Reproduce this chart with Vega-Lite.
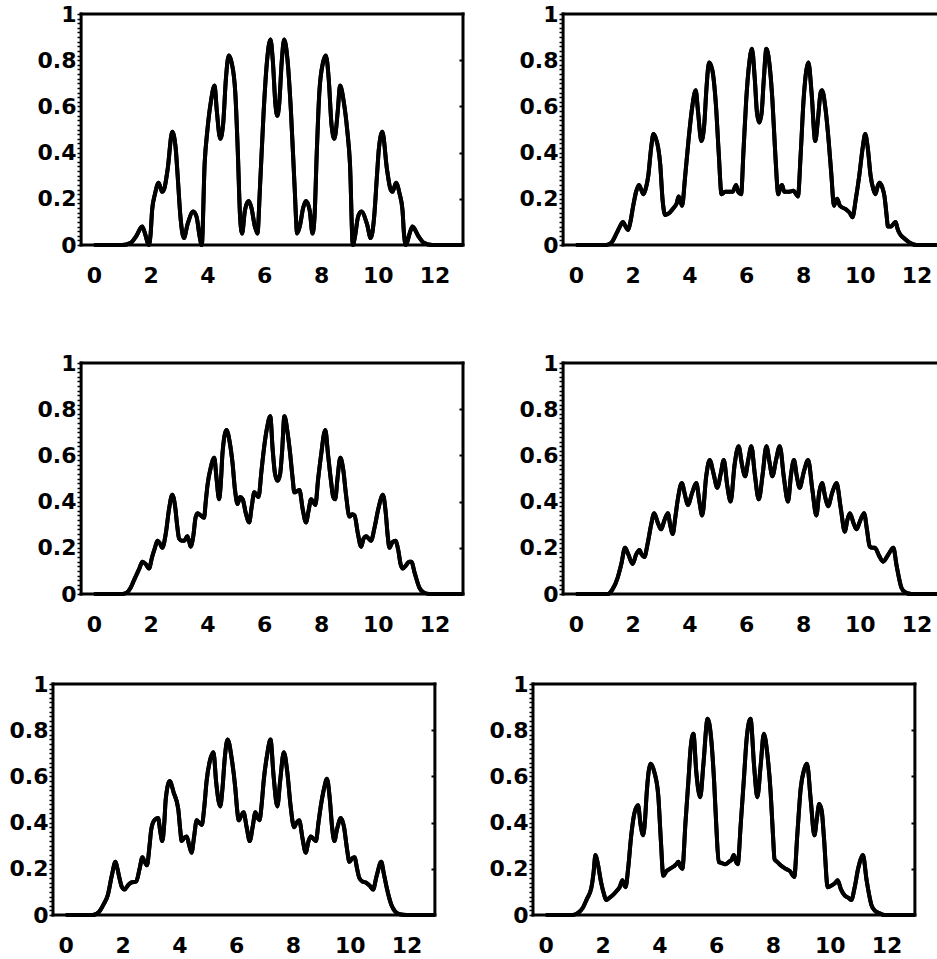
{
  "$schema": "https://vega.github.io/schema/vega-lite/v6.json",
  "background": "white",
  "padding": {"left": 9, "top": 3, "right": 0, "bottom": 0},
  "config": {
    "view": {"stroke": null},
    "axis": {"domain": false, "grid": false, "labelFont": "DejaVu Sans", "labelFontWeight": "bold", "labelFontSize": 22, "labelColor": "black", "tickColor": "black"}
  },
  "datasets": {
    "p1": [{"x":0,"y":0},{"x":1.0,"y":0},{"x":1.3,"y":0.01},{"x":1.5,"y":0.04},{"x":1.7,"y":0.08},{"x":1.8,"y":0.05},{"x":1.93,"y":0},{"x":2.0,"y":0.05},{"x":2.05,"y":0.15},{"x":2.15,"y":0.22},{"x":2.28,"y":0.27},{"x":2.4,"y":0.23},{"x":2.47,"y":0.24},{"x":2.6,"y":0.33},{"x":2.76,"y":0.49},{"x":2.88,"y":0.42},{"x":2.95,"y":0.3},{"x":3.05,"y":0.12},{"x":3.17,"y":0.03},{"x":3.3,"y":0.09},{"x":3.5,"y":0.145},{"x":3.62,"y":0.12},{"x":3.72,"y":0.04},{"x":3.8,"y":0},{"x":3.9,"y":0.35},{"x":4.0,"y":0.5},{"x":4.12,"y":0.62},{"x":4.25,"y":0.69},{"x":4.33,"y":0.58},{"x":4.45,"y":0.46},{"x":4.55,"y":0.52},{"x":4.65,"y":0.72},{"x":4.75,"y":0.82},{"x":4.85,"y":0.79},{"x":4.98,"y":0.66},{"x":5.07,"y":0.4},{"x":5.15,"y":0.12},{"x":5.22,"y":0.05},{"x":5.32,"y":0.15},{"x":5.45,"y":0.19},{"x":5.55,"y":0.16},{"x":5.67,"y":0.08},{"x":5.76,"y":0.05},{"x":5.85,"y":0.25},{"x":5.98,"y":0.58},{"x":6.1,"y":0.8},{"x":6.22,"y":0.89},{"x":6.3,"y":0.8},{"x":6.4,"y":0.6},{"x":6.46,"y":0.56},{"x":6.52,"y":0.6},{"x":6.62,"y":0.8},{"x":6.7,"y":0.89},{"x":6.82,"y":0.8},{"x":6.94,"y":0.58},{"x":7.07,"y":0.25},{"x":7.16,"y":0.05},{"x":7.25,"y":0.08},{"x":7.37,"y":0.16},{"x":7.47,"y":0.19},{"x":7.6,"y":0.15},{"x":7.7,"y":0.05},{"x":7.77,"y":0.12},{"x":7.85,"y":0.4},{"x":7.94,"y":0.66},{"x":8.07,"y":0.79},{"x":8.17,"y":0.82},{"x":8.27,"y":0.72},{"x":8.37,"y":0.52},{"x":8.47,"y":0.46},{"x":8.59,"y":0.58},{"x":8.67,"y":0.69},{"x":8.8,"y":0.62},{"x":8.92,"y":0.5},{"x":9.02,"y":0.35},{"x":9.12,"y":0},{"x":9.2,"y":0.04},{"x":9.3,"y":0.12},{"x":9.42,"y":0.145},{"x":9.62,"y":0.09},{"x":9.75,"y":0.03},{"x":9.87,"y":0.12},{"x":9.97,"y":0.3},{"x":10.04,"y":0.42},{"x":10.16,"y":0.49},{"x":10.32,"y":0.33},{"x":10.45,"y":0.24},{"x":10.52,"y":0.23},{"x":10.64,"y":0.27},{"x":10.77,"y":0.22},{"x":10.87,"y":0.15},{"x":10.92,"y":0.05},{"x":10.99,"y":0},{"x":11.12,"y":0.05},{"x":11.22,"y":0.08},{"x":11.42,"y":0.04},{"x":11.62,"y":0.01},{"x":11.92,"y":0},{"x":13,"y":0}],
    "p2": [{"x":0,"y":0},{"x":1.07,"y":0},{"x":1.25,"y":0.01},{"x":1.43,"y":0.05},{"x":1.55,"y":0.08},{"x":1.66,"y":0.1},{"x":1.75,"y":0.08},{"x":1.84,"y":0.065},{"x":1.92,"y":0.1},{"x":2.02,"y":0.17},{"x":2.12,"y":0.23},{"x":2.22,"y":0.26},{"x":2.3,"y":0.24},{"x":2.38,"y":0.22},{"x":2.45,"y":0.24},{"x":2.55,"y":0.3},{"x":2.65,"y":0.42},{"x":2.73,"y":0.48},{"x":2.82,"y":0.46},{"x":2.9,"y":0.42},{"x":2.97,"y":0.35},{"x":3.05,"y":0.2},{"x":3.15,"y":0.13},{"x":3.3,"y":0.14},{"x":3.44,"y":0.16},{"x":3.55,"y":0.18},{"x":3.62,"y":0.21},{"x":3.68,"y":0.19},{"x":3.74,"y":0.17},{"x":3.85,"y":0.3},{"x":3.98,"y":0.47},{"x":4.1,"y":0.6},{"x":4.22,"y":0.67},{"x":4.3,"y":0.58},{"x":4.42,"y":0.45},{"x":4.52,"y":0.52},{"x":4.6,"y":0.68},{"x":4.69,"y":0.79},{"x":4.8,"y":0.76},{"x":4.93,"y":0.61},{"x":5.03,"y":0.4},{"x":5.13,"y":0.22},{"x":5.25,"y":0.23},{"x":5.4,"y":0.23},{"x":5.52,"y":0.23},{"x":5.6,"y":0.25},{"x":5.64,"y":0.26},{"x":5.72,"y":0.23},{"x":5.82,"y":0.22},{"x":5.9,"y":0.4},{"x":6.0,"y":0.63},{"x":6.1,"y":0.78},{"x":6.2,"y":0.85},{"x":6.3,"y":0.72},{"x":6.38,"y":0.57},{"x":6.46,"y":0.53},{"x":6.54,"y":0.57},{"x":6.62,"y":0.72},{"x":6.71,"y":0.85},{"x":6.82,"y":0.78},{"x":6.92,"y":0.63},{"x":7.02,"y":0.4},{"x":7.13,"y":0.22},{"x":7.2,"y":0.25},{"x":7.26,"y":0.26},{"x":7.34,"y":0.23},{"x":7.48,"y":0.23},{"x":7.66,"y":0.235},{"x":7.76,"y":0.22},{"x":7.82,"y":0.21},{"x":7.92,"y":0.4},{"x":8.02,"y":0.63},{"x":8.12,"y":0.76},{"x":8.19,"y":0.79},{"x":8.3,"y":0.66},{"x":8.43,"y":0.45},{"x":8.53,"y":0.55},{"x":8.62,"y":0.66},{"x":8.67,"y":0.67},{"x":8.8,"y":0.58},{"x":8.91,"y":0.44},{"x":9.0,"y":0.3},{"x":9.09,"y":0.17},{"x":9.15,"y":0.19},{"x":9.2,"y":0.2},{"x":9.3,"y":0.17},{"x":9.5,"y":0.155},{"x":9.64,"y":0.14},{"x":9.74,"y":0.12},{"x":9.86,"y":0.2},{"x":9.98,"y":0.3},{"x":10.1,"y":0.42},{"x":10.19,"y":0.48},{"x":10.28,"y":0.42},{"x":10.38,"y":0.3},{"x":10.48,"y":0.24},{"x":10.55,"y":0.22},{"x":10.62,"y":0.25},{"x":10.69,"y":0.27},{"x":10.79,"y":0.25},{"x":10.87,"y":0.21},{"x":10.95,"y":0.12},{"x":10.99,"y":0.08},{"x":11.1,"y":0.08},{"x":11.18,"y":0.09},{"x":11.26,"y":0.1},{"x":11.33,"y":0.07},{"x":11.4,"y":0.05},{"x":11.55,"y":0.03},{"x":11.76,"y":0.01},{"x":12.0,"y":0},{"x":13,"y":0}],
    "p3": [{"x":0,"y":0},{"x":1.0,"y":0},{"x":1.15,"y":0.005},{"x":1.29,"y":0.026},{"x":1.45,"y":0.07},{"x":1.6,"y":0.11},{"x":1.71,"y":0.14},{"x":1.82,"y":0.13},{"x":1.94,"y":0.11},{"x":2.05,"y":0.16},{"x":2.15,"y":0.2},{"x":2.24,"y":0.23},{"x":2.32,"y":0.22},{"x":2.41,"y":0.2},{"x":2.53,"y":0.26},{"x":2.65,"y":0.37},{"x":2.76,"y":0.43},{"x":2.86,"y":0.38},{"x":2.93,"y":0.3},{"x":3.0,"y":0.24},{"x":3.1,"y":0.23},{"x":3.18,"y":0.23},{"x":3.29,"y":0.25},{"x":3.35,"y":0.23},{"x":3.41,"y":0.205},{"x":3.5,"y":0.25},{"x":3.58,"y":0.33},{"x":3.65,"y":0.35},{"x":3.76,"y":0.34},{"x":3.88,"y":0.33},{"x":3.94,"y":0.4},{"x":4.0,"y":0.47},{"x":4.12,"y":0.55},{"x":4.24,"y":0.59},{"x":4.32,"y":0.5},{"x":4.41,"y":0.41},{"x":4.47,"y":0.48},{"x":4.53,"y":0.61},{"x":4.67,"y":0.71},{"x":4.78,"y":0.66},{"x":4.88,"y":0.57},{"x":4.97,"y":0.45},{"x":5.06,"y":0.39},{"x":5.15,"y":0.42},{"x":5.24,"y":0.41},{"x":5.35,"y":0.35},{"x":5.47,"y":0.31},{"x":5.56,"y":0.38},{"x":5.65,"y":0.44},{"x":5.72,"y":0.43},{"x":5.8,"y":0.42},{"x":5.9,"y":0.53},{"x":6.0,"y":0.64},{"x":6.1,"y":0.72},{"x":6.21,"y":0.77},{"x":6.3,"y":0.62},{"x":6.38,"y":0.52},{"x":6.47,"y":0.49},{"x":6.56,"y":0.52},{"x":6.63,"y":0.62},{"x":6.71,"y":0.77},{"x":6.82,"y":0.7},{"x":6.91,"y":0.61},{"x":7.0,"y":0.5},{"x":7.06,"y":0.44},{"x":7.15,"y":0.445},{"x":7.24,"y":0.45},{"x":7.35,"y":0.37},{"x":7.47,"y":0.31},{"x":7.56,"y":0.36},{"x":7.65,"y":0.41},{"x":7.72,"y":0.4},{"x":7.8,"y":0.385},{"x":7.9,"y":0.5},{"x":8.0,"y":0.6},{"x":8.15,"y":0.71},{"x":8.25,"y":0.6},{"x":8.35,"y":0.49},{"x":8.43,"y":0.42},{"x":8.5,"y":0.41},{"x":8.58,"y":0.5},{"x":8.68,"y":0.59},{"x":8.78,"y":0.54},{"x":8.88,"y":0.43},{"x":9.0,"y":0.335},{"x":9.1,"y":0.345},{"x":9.18,"y":0.34},{"x":9.3,"y":0.26},{"x":9.41,"y":0.205},{"x":9.5,"y":0.24},{"x":9.59,"y":0.25},{"x":9.68,"y":0.24},{"x":9.76,"y":0.23},{"x":9.88,"y":0.285},{"x":10.02,"y":0.37},{"x":10.18,"y":0.43},{"x":10.28,"y":0.35},{"x":10.35,"y":0.25},{"x":10.41,"y":0.2},{"x":10.52,"y":0.225},{"x":10.62,"y":0.23},{"x":10.72,"y":0.19},{"x":10.8,"y":0.13},{"x":10.88,"y":0.11},{"x":11.0,"y":0.125},{"x":11.1,"y":0.14},{"x":11.18,"y":0.14},{"x":11.3,"y":0.09},{"x":11.47,"y":0.026},{"x":11.6,"y":0.008},{"x":11.82,"y":0},{"x":13,"y":0}],
    "p4": [{"x":0,"y":0},{"x":1.12,"y":0},{"x":1.29,"y":0.02},{"x":1.47,"y":0.07},{"x":1.6,"y":0.13},{"x":1.73,"y":0.2},{"x":1.85,"y":0.17},{"x":2.0,"y":0.13},{"x":2.12,"y":0.17},{"x":2.24,"y":0.19},{"x":2.32,"y":0.17},{"x":2.41,"y":0.16},{"x":2.53,"y":0.22},{"x":2.65,"y":0.3},{"x":2.76,"y":0.35},{"x":2.88,"y":0.31},{"x":3.0,"y":0.28},{"x":3.12,"y":0.32},{"x":3.24,"y":0.35},{"x":3.32,"y":0.3},{"x":3.41,"y":0.26},{"x":3.5,"y":0.33},{"x":3.59,"y":0.41},{"x":3.73,"y":0.48},{"x":3.84,"y":0.43},{"x":3.94,"y":0.385},{"x":4.1,"y":0.44},{"x":4.24,"y":0.48},{"x":4.35,"y":0.4},{"x":4.45,"y":0.34},{"x":4.59,"y":0.51},{"x":4.71,"y":0.58},{"x":4.85,"y":0.52},{"x":4.98,"y":0.46},{"x":5.1,"y":0.52},{"x":5.21,"y":0.58},{"x":5.33,"y":0.47},{"x":5.45,"y":0.4},{"x":5.59,"y":0.56},{"x":5.73,"y":0.64},{"x":5.85,"y":0.56},{"x":5.96,"y":0.51},{"x":6.07,"y":0.58},{"x":6.18,"y":0.64},{"x":6.3,"y":0.52},{"x":6.44,"y":0.41},{"x":6.58,"y":0.52},{"x":6.71,"y":0.64},{"x":6.82,"y":0.57},{"x":6.92,"y":0.51},{"x":7.05,"y":0.58},{"x":7.18,"y":0.64},{"x":7.33,"y":0.5},{"x":7.47,"y":0.4},{"x":7.58,"y":0.52},{"x":7.68,"y":0.58},{"x":7.78,"y":0.51},{"x":7.88,"y":0.46},{"x":8.03,"y":0.53},{"x":8.18,"y":0.58},{"x":8.33,"y":0.45},{"x":8.47,"y":0.34},{"x":8.57,"y":0.44},{"x":8.67,"y":0.48},{"x":8.78,"y":0.42},{"x":8.88,"y":0.38},{"x":9.03,"y":0.44},{"x":9.18,"y":0.48},{"x":9.33,"y":0.37},{"x":9.47,"y":0.27},{"x":9.56,"y":0.32},{"x":9.65,"y":0.35},{"x":9.77,"y":0.31},{"x":9.88,"y":0.28},{"x":10.02,"y":0.32},{"x":10.15,"y":0.35},{"x":10.25,"y":0.28},{"x":10.35,"y":0.205},{"x":10.45,"y":0.2},{"x":10.53,"y":0.2},{"x":10.68,"y":0.165},{"x":10.82,"y":0.14},{"x":11.0,"y":0.17},{"x":11.18,"y":0.2},{"x":11.3,"y":0.12},{"x":11.47,"y":0.026},{"x":11.6,"y":0.007},{"x":11.82,"y":0},{"x":13,"y":0}],
    "p5": [{"x":0,"y":0},{"x":0.95,"y":0},{"x":1.18,"y":0.015},{"x":1.35,"y":0.05},{"x":1.48,"y":0.086},{"x":1.62,"y":0.17},{"x":1.75,"y":0.23},{"x":1.82,"y":0.2},{"x":1.89,"y":0.16},{"x":1.98,"y":0.12},{"x":2.07,"y":0.11},{"x":2.2,"y":0.13},{"x":2.3,"y":0.14},{"x":2.48,"y":0.145},{"x":2.6,"y":0.2},{"x":2.7,"y":0.25},{"x":2.78,"y":0.23},{"x":2.86,"y":0.215},{"x":2.95,"y":0.3},{"x":3.01,"y":0.37},{"x":3.12,"y":0.41},{"x":3.25,"y":0.42},{"x":3.33,"y":0.36},{"x":3.4,"y":0.32},{"x":3.47,"y":0.4},{"x":3.52,"y":0.5},{"x":3.66,"y":0.58},{"x":3.8,"y":0.53},{"x":3.96,"y":0.46},{"x":4.03,"y":0.37},{"x":4.08,"y":0.32},{"x":4.18,"y":0.335},{"x":4.26,"y":0.34},{"x":4.35,"y":0.3},{"x":4.43,"y":0.27},{"x":4.52,"y":0.34},{"x":4.61,"y":0.41},{"x":4.7,"y":0.4},{"x":4.79,"y":0.39},{"x":4.88,"y":0.47},{"x":4.96,"y":0.58},{"x":5.08,"y":0.67},{"x":5.2,"y":0.705},{"x":5.3,"y":0.57},{"x":5.44,"y":0.47},{"x":5.52,"y":0.55},{"x":5.6,"y":0.68},{"x":5.7,"y":0.76},{"x":5.84,"y":0.68},{"x":5.97,"y":0.55},{"x":6.04,"y":0.45},{"x":6.09,"y":0.41},{"x":6.18,"y":0.43},{"x":6.26,"y":0.445},{"x":6.37,"y":0.38},{"x":6.48,"y":0.32},{"x":6.58,"y":0.38},{"x":6.68,"y":0.445},{"x":6.76,"y":0.42},{"x":6.82,"y":0.41},{"x":6.9,"y":0.48},{"x":6.97,"y":0.58},{"x":7.1,"y":0.7},{"x":7.21,"y":0.76},{"x":7.32,"y":0.6},{"x":7.45,"y":0.47},{"x":7.55,"y":0.58},{"x":7.68,"y":0.705},{"x":7.8,"y":0.62},{"x":7.92,"y":0.47},{"x":8.04,"y":0.38},{"x":8.13,"y":0.4},{"x":8.22,"y":0.41},{"x":8.34,"y":0.33},{"x":8.45,"y":0.27},{"x":8.55,"y":0.32},{"x":8.63,"y":0.34},{"x":8.72,"y":0.33},{"x":8.81,"y":0.32},{"x":8.9,"y":0.4},{"x":8.98,"y":0.47},{"x":9.1,"y":0.55},{"x":9.2,"y":0.59},{"x":9.3,"y":0.5},{"x":9.38,"y":0.38},{"x":9.46,"y":0.32},{"x":9.55,"y":0.37},{"x":9.69,"y":0.42},{"x":9.8,"y":0.38},{"x":9.9,"y":0.29},{"x":9.99,"y":0.23},{"x":10.08,"y":0.245},{"x":10.17,"y":0.25},{"x":10.26,"y":0.2},{"x":10.34,"y":0.16},{"x":10.45,"y":0.145},{"x":10.58,"y":0.14},{"x":10.72,"y":0.125},{"x":10.82,"y":0.11},{"x":10.95,"y":0.17},{"x":11.11,"y":0.23},{"x":11.2,"y":0.18},{"x":11.3,"y":0.12},{"x":11.47,"y":0.043},{"x":11.6,"y":0.015},{"x":11.76,"y":0.003},{"x":12.0,"y":0},{"x":13,"y":0}],
    "p6": [{"x":0,"y":0},{"x":0.95,"y":0},{"x":1.15,"y":0.01},{"x":1.3,"y":0.03},{"x":1.45,"y":0.07},{"x":1.6,"y":0.115},{"x":1.68,"y":0.18},{"x":1.75,"y":0.26},{"x":1.82,"y":0.23},{"x":1.95,"y":0.14},{"x":2.05,"y":0.09},{"x":2.13,"y":0.065},{"x":2.25,"y":0.075},{"x":2.36,"y":0.086},{"x":2.5,"y":0.105},{"x":2.6,"y":0.12},{"x":2.7,"y":0.15},{"x":2.76,"y":0.13},{"x":2.81,"y":0.12},{"x":2.9,"y":0.2},{"x":3.01,"y":0.345},{"x":3.12,"y":0.44},{"x":3.25,"y":0.475},{"x":3.34,"y":0.39},{"x":3.43,"y":0.345},{"x":3.5,"y":0.42},{"x":3.55,"y":0.52},{"x":3.69,"y":0.655},{"x":3.82,"y":0.62},{"x":3.96,"y":0.52},{"x":4.05,"y":0.33},{"x":4.14,"y":0.17},{"x":4.25,"y":0.19},{"x":4.37,"y":0.2},{"x":4.5,"y":0.21},{"x":4.6,"y":0.22},{"x":4.67,"y":0.23},{"x":4.74,"y":0.21},{"x":4.81,"y":0.2},{"x":4.92,"y":0.4},{"x":5.02,"y":0.575},{"x":5.1,"y":0.72},{"x":5.2,"y":0.785},{"x":5.3,"y":0.62},{"x":5.44,"y":0.51},{"x":5.55,"y":0.65},{"x":5.7,"y":0.85},{"x":5.82,"y":0.77},{"x":5.93,"y":0.575},{"x":6.0,"y":0.4},{"x":6.09,"y":0.23},{"x":6.2,"y":0.225},{"x":6.32,"y":0.22},{"x":6.45,"y":0.23},{"x":6.55,"y":0.24},{"x":6.62,"y":0.26},{"x":6.7,"y":0.23},{"x":6.76,"y":0.22},{"x":6.87,"y":0.4},{"x":6.97,"y":0.575},{"x":7.08,"y":0.77},{"x":7.21,"y":0.85},{"x":7.34,"y":0.64},{"x":7.45,"y":0.51},{"x":7.57,"y":0.65},{"x":7.68,"y":0.785},{"x":7.8,"y":0.7},{"x":7.92,"y":0.53},{"x":8.0,"y":0.35},{"x":8.06,"y":0.24},{"x":8.15,"y":0.23},{"x":8.27,"y":0.215},{"x":8.45,"y":0.2},{"x":8.6,"y":0.19},{"x":8.75,"y":0.165},{"x":8.86,"y":0.35},{"x":8.98,"y":0.55},{"x":9.1,"y":0.63},{"x":9.2,"y":0.655},{"x":9.33,"y":0.5},{"x":9.46,"y":0.345},{"x":9.55,"y":0.42},{"x":9.63,"y":0.48},{"x":9.72,"y":0.45},{"x":9.8,"y":0.33},{"x":9.93,"y":0.12},{"x":10.1,"y":0.13},{"x":10.2,"y":0.14},{"x":10.28,"y":0.15},{"x":10.4,"y":0.11},{"x":10.52,"y":0.086},{"x":10.65,"y":0.075},{"x":10.76,"y":0.065},{"x":10.88,"y":0.12},{"x":11.0,"y":0.2},{"x":11.1,"y":0.245},{"x":11.17,"y":0.26},{"x":11.3,"y":0.15},{"x":11.47,"y":0.043},{"x":11.6,"y":0.018},{"x":11.76,"y":0.007},{"x":11.94,"y":0},{"x":13,"y":0}]
  },
  "concat": [
    {
      "spacing": 66,
      "vconcat": [
        {
          "spacing": 48,
          "hconcat": [
            {"width": 410, "height": 231,
             "layer": [
               {"data": {"values": [{}]}, "mark": {"type": "rule", "color": "black", "strokeWidth": 3, "strokeCap": "square"}, "encoding": {"x": {"datum": -0.45, "type": "quantitative", "scale": {"domain": [-1.44, 13], "nice": false, "zero": false}, "axis": {"values": [0,2,4,6,8,10,12], "ticks": false, "tickSize": 0, "labelPadding": 20, "title": null, "labelFlush": false}}}},
               {"data": {"values": [{}]}, "mark": {"type": "rule", "color": "black", "strokeWidth": 3, "strokeCap": "square"}, "encoding": {"x": {"datum": 13, "type": "quantitative", "axis": {"values": [0,2,4,6,8,10,12], "ticks": false, "tickSize": 0, "labelPadding": 20, "title": null, "labelFlush": false}}}},
               {"data": {"values": [{}]}, "mark": {"type": "rule", "color": "black", "strokeWidth": 3, "strokeCap": "square"}, "encoding": {"x": {"datum": -0.45, "type": "quantitative", "axis": {"values": [0,2,4,6,8,10,12], "ticks": false, "tickSize": 0, "labelPadding": 20, "title": null, "labelFlush": false}}, "x2": {"datum": 13}, "y": {"datum": 0, "type": "quantitative", "scale": {"domain": [0, 1], "nice": false}, "axis": null}}},
               {"data": {"values": [{}]}, "mark": {"type": "rule", "color": "black", "strokeWidth": 3, "strokeCap": "square"}, "encoding": {"x": {"datum": -0.45, "type": "quantitative", "axis": {"values": [0,2,4,6,8,10,12], "ticks": false, "tickSize": 0, "labelPadding": 20, "title": null, "labelFlush": false}}, "x2": {"datum": 13}, "y": {"datum": 1, "type": "quantitative", "axis": null}}},
               {"data": {"name": "p1"}, "mark": {"type": "line", "color": "black", "strokeWidth": 4, "interpolate": "monotone"},
                "encoding": {
                  "x": {"field": "x", "type": "quantitative", "scale": {"domain": [-1.44, 13], "nice": false, "zero": false}, "axis": {"values": [0,2,4,6,8,10,12], "ticks": false, "tickSize": 0, "labelPadding": 20, "title": null, "labelFlush": false}},
                  "y": {"field": "y", "type": "quantitative", "scale": {"domain": [0, 1], "nice": false}, "axis": {"offset": -28, "values": [0,0.02,0.04,0.06,0.08,0.1,0.12,0.14,0.16,0.18,0.2,0.22,0.24,0.26,0.28,0.3,0.32,0.34,0.36,0.38,0.4,0.42,0.44,0.46,0.48,0.5,0.52,0.54,0.56,0.58,0.6,0.62,0.64,0.66,0.68,0.7,0.72,0.74,0.76,0.78,0.8,0.82,0.84,0.86,0.88,0.9,0.92,0.94,0.96,0.98,1], "tickSize": 4, "tickWidth": 1.5, "labelPadding": 1, "labelOverlap": false, "labelExpr": "round(datum.value*50) % 10 == 0 ? toString(round(datum.value*5)/5) : ''", "title": null}}
                }},
               {"data": {"name": "p1"}, "mark": {"type": "line", "color": "black", "strokeWidth": 4, "interpolate": "monotone"},
                "encoding": {
                  "x": {"field": "x", "type": "quantitative", "scale": {"domain": [-1.44, 13], "nice": false, "zero": false}, "axis": {"values": [0,2,4,6,8,10,12], "ticks": false, "tickSize": 0, "labelPadding": 20, "title": null, "labelFlush": false}},
                  "y": {"field": "y", "type": "quantitative", "scale": {"domain": [0, 1], "nice": false}, "axis": {"orient": "right", "values": [0.2,0.4,0.6,0.8], "tickSize": -4, "tickWidth": 2, "labels": false, "title": null}}
                }}
             ],
             "resolve": {"axis": {"y": "independent"}}},
            {"width": 410, "height": 231,
             "layer": [
               {"data": {"values": [{}]}, "mark": {"type": "rule", "color": "black", "strokeWidth": 3, "strokeCap": "square"}, "encoding": {"x": {"datum": -0.45, "type": "quantitative", "scale": {"domain": [-1.44, 13], "nice": false, "zero": false}, "axis": {"values": [0,2,4,6,8,10,12], "ticks": false, "tickSize": 0, "labelPadding": 20, "title": null, "labelFlush": false}}}},
               {"data": {"values": [{}]}, "mark": {"type": "rule", "color": "black", "strokeWidth": 3, "strokeCap": "square"}, "encoding": {"x": {"datum": 13, "type": "quantitative", "axis": {"values": [0,2,4,6,8,10,12], "ticks": false, "tickSize": 0, "labelPadding": 20, "title": null, "labelFlush": false}}}},
               {"data": {"values": [{}]}, "mark": {"type": "rule", "color": "black", "strokeWidth": 3, "strokeCap": "square"}, "encoding": {"x": {"datum": -0.45, "type": "quantitative", "axis": {"values": [0,2,4,6,8,10,12], "ticks": false, "tickSize": 0, "labelPadding": 20, "title": null, "labelFlush": false}}, "x2": {"datum": 13}, "y": {"datum": 0, "type": "quantitative", "scale": {"domain": [0, 1], "nice": false}, "axis": null}}},
               {"data": {"values": [{}]}, "mark": {"type": "rule", "color": "black", "strokeWidth": 3, "strokeCap": "square"}, "encoding": {"x": {"datum": -0.45, "type": "quantitative", "axis": {"values": [0,2,4,6,8,10,12], "ticks": false, "tickSize": 0, "labelPadding": 20, "title": null, "labelFlush": false}}, "x2": {"datum": 13}, "y": {"datum": 1, "type": "quantitative", "axis": null}}},
               {"data": {"name": "p2"}, "mark": {"type": "line", "color": "black", "strokeWidth": 4, "interpolate": "monotone"},
                "encoding": {
                  "x": {"field": "x", "type": "quantitative", "scale": {"domain": [-1.44, 13], "nice": false, "zero": false}, "axis": {"values": [0,2,4,6,8,10,12], "ticks": false, "tickSize": 0, "labelPadding": 20, "title": null, "labelFlush": false}},
                  "y": {"field": "y", "type": "quantitative", "scale": {"domain": [0, 1], "nice": false}, "axis": {"offset": -28, "values": [0,0.02,0.04,0.06,0.08,0.1,0.12,0.14,0.16,0.18,0.2,0.22,0.24,0.26,0.28,0.3,0.32,0.34,0.36,0.38,0.4,0.42,0.44,0.46,0.48,0.5,0.52,0.54,0.56,0.58,0.6,0.62,0.64,0.66,0.68,0.7,0.72,0.74,0.76,0.78,0.8,0.82,0.84,0.86,0.88,0.9,0.92,0.94,0.96,0.98,1], "tickSize": 4, "tickWidth": 1.5, "labelPadding": 1, "labelOverlap": false, "labelExpr": "round(datum.value*50) % 10 == 0 ? toString(round(datum.value*5)/5) : ''", "title": null}}
                }},
               {"data": {"name": "p2"}, "mark": {"type": "line", "color": "black", "strokeWidth": 4, "interpolate": "monotone"},
                "encoding": {
                  "x": {"field": "x", "type": "quantitative", "scale": {"domain": [-1.44, 13], "nice": false, "zero": false}, "axis": {"values": [0,2,4,6,8,10,12], "ticks": false, "tickSize": 0, "labelPadding": 20, "title": null, "labelFlush": false}},
                  "y": {"field": "y", "type": "quantitative", "scale": {"domain": [0, 1], "nice": false}, "axis": {"orient": "right", "values": [0.2,0.4,0.6,0.8], "tickSize": -4, "tickWidth": 2, "labels": false, "title": null}}
                }}
             ],
             "resolve": {"axis": {"y": "independent"}}}
          ]
        },
        {
          "spacing": 48,
          "hconcat": [
            {"width": 410, "height": 231,
             "layer": [
               {"data": {"values": [{}]}, "mark": {"type": "rule", "color": "black", "strokeWidth": 3, "strokeCap": "square"}, "encoding": {"x": {"datum": -0.45, "type": "quantitative", "scale": {"domain": [-1.44, 13], "nice": false, "zero": false}, "axis": {"values": [0,2,4,6,8,10,12], "ticks": false, "tickSize": 0, "labelPadding": 20, "title": null, "labelFlush": false}}}},
               {"data": {"values": [{}]}, "mark": {"type": "rule", "color": "black", "strokeWidth": 3, "strokeCap": "square"}, "encoding": {"x": {"datum": 13, "type": "quantitative", "axis": {"values": [0,2,4,6,8,10,12], "ticks": false, "tickSize": 0, "labelPadding": 20, "title": null, "labelFlush": false}}}},
               {"data": {"values": [{}]}, "mark": {"type": "rule", "color": "black", "strokeWidth": 3, "strokeCap": "square"}, "encoding": {"x": {"datum": -0.45, "type": "quantitative", "axis": {"values": [0,2,4,6,8,10,12], "ticks": false, "tickSize": 0, "labelPadding": 20, "title": null, "labelFlush": false}}, "x2": {"datum": 13}, "y": {"datum": 0, "type": "quantitative", "scale": {"domain": [0, 1], "nice": false}, "axis": null}}},
               {"data": {"values": [{}]}, "mark": {"type": "rule", "color": "black", "strokeWidth": 3, "strokeCap": "square"}, "encoding": {"x": {"datum": -0.45, "type": "quantitative", "axis": {"values": [0,2,4,6,8,10,12], "ticks": false, "tickSize": 0, "labelPadding": 20, "title": null, "labelFlush": false}}, "x2": {"datum": 13}, "y": {"datum": 1, "type": "quantitative", "axis": null}}},
               {"data": {"name": "p3"}, "mark": {"type": "line", "color": "black", "strokeWidth": 4, "interpolate": "monotone"},
                "encoding": {
                  "x": {"field": "x", "type": "quantitative", "scale": {"domain": [-1.44, 13], "nice": false, "zero": false}, "axis": {"values": [0,2,4,6,8,10,12], "ticks": false, "tickSize": 0, "labelPadding": 20, "title": null, "labelFlush": false}},
                  "y": {"field": "y", "type": "quantitative", "scale": {"domain": [0, 1], "nice": false}, "axis": {"offset": -28, "values": [0,0.02,0.04,0.06,0.08,0.1,0.12,0.14,0.16,0.18,0.2,0.22,0.24,0.26,0.28,0.3,0.32,0.34,0.36,0.38,0.4,0.42,0.44,0.46,0.48,0.5,0.52,0.54,0.56,0.58,0.6,0.62,0.64,0.66,0.68,0.7,0.72,0.74,0.76,0.78,0.8,0.82,0.84,0.86,0.88,0.9,0.92,0.94,0.96,0.98,1], "tickSize": 4, "tickWidth": 1.5, "labelPadding": 1, "labelOverlap": false, "labelExpr": "round(datum.value*50) % 10 == 0 ? toString(round(datum.value*5)/5) : ''", "title": null}}
                }},
               {"data": {"name": "p3"}, "mark": {"type": "line", "color": "black", "strokeWidth": 4, "interpolate": "monotone"},
                "encoding": {
                  "x": {"field": "x", "type": "quantitative", "scale": {"domain": [-1.44, 13], "nice": false, "zero": false}, "axis": {"values": [0,2,4,6,8,10,12], "ticks": false, "tickSize": 0, "labelPadding": 20, "title": null, "labelFlush": false}},
                  "y": {"field": "y", "type": "quantitative", "scale": {"domain": [0, 1], "nice": false}, "axis": {"orient": "right", "values": [0.2,0.4,0.6,0.8], "tickSize": -4, "tickWidth": 2, "labels": false, "title": null}}
                }}
             ],
             "resolve": {"axis": {"y": "independent"}}},
            {"width": 410, "height": 231,
             "layer": [
               {"data": {"values": [{}]}, "mark": {"type": "rule", "color": "black", "strokeWidth": 3, "strokeCap": "square"}, "encoding": {"x": {"datum": -0.45, "type": "quantitative", "scale": {"domain": [-1.44, 13], "nice": false, "zero": false}, "axis": {"values": [0,2,4,6,8,10,12], "ticks": false, "tickSize": 0, "labelPadding": 20, "title": null, "labelFlush": false}}}},
               {"data": {"values": [{}]}, "mark": {"type": "rule", "color": "black", "strokeWidth": 3, "strokeCap": "square"}, "encoding": {"x": {"datum": 13, "type": "quantitative", "axis": {"values": [0,2,4,6,8,10,12], "ticks": false, "tickSize": 0, "labelPadding": 20, "title": null, "labelFlush": false}}}},
               {"data": {"values": [{}]}, "mark": {"type": "rule", "color": "black", "strokeWidth": 3, "strokeCap": "square"}, "encoding": {"x": {"datum": -0.45, "type": "quantitative", "axis": {"values": [0,2,4,6,8,10,12], "ticks": false, "tickSize": 0, "labelPadding": 20, "title": null, "labelFlush": false}}, "x2": {"datum": 13}, "y": {"datum": 0, "type": "quantitative", "scale": {"domain": [0, 1], "nice": false}, "axis": null}}},
               {"data": {"values": [{}]}, "mark": {"type": "rule", "color": "black", "strokeWidth": 3, "strokeCap": "square"}, "encoding": {"x": {"datum": -0.45, "type": "quantitative", "axis": {"values": [0,2,4,6,8,10,12], "ticks": false, "tickSize": 0, "labelPadding": 20, "title": null, "labelFlush": false}}, "x2": {"datum": 13}, "y": {"datum": 1, "type": "quantitative", "axis": null}}},
               {"data": {"name": "p4"}, "mark": {"type": "line", "color": "black", "strokeWidth": 4, "interpolate": "monotone"},
                "encoding": {
                  "x": {"field": "x", "type": "quantitative", "scale": {"domain": [-1.44, 13], "nice": false, "zero": false}, "axis": {"values": [0,2,4,6,8,10,12], "ticks": false, "tickSize": 0, "labelPadding": 20, "title": null, "labelFlush": false}},
                  "y": {"field": "y", "type": "quantitative", "scale": {"domain": [0, 1], "nice": false}, "axis": {"offset": -28, "values": [0,0.02,0.04,0.06,0.08,0.1,0.12,0.14,0.16,0.18,0.2,0.22,0.24,0.26,0.28,0.3,0.32,0.34,0.36,0.38,0.4,0.42,0.44,0.46,0.48,0.5,0.52,0.54,0.56,0.58,0.6,0.62,0.64,0.66,0.68,0.7,0.72,0.74,0.76,0.78,0.8,0.82,0.84,0.86,0.88,0.9,0.92,0.94,0.96,0.98,1], "tickSize": 4, "tickWidth": 1.5, "labelPadding": 1, "labelOverlap": false, "labelExpr": "round(datum.value*50) % 10 == 0 ? toString(round(datum.value*5)/5) : ''", "title": null}}
                }},
               {"data": {"name": "p4"}, "mark": {"type": "line", "color": "black", "strokeWidth": 4, "interpolate": "monotone"},
                "encoding": {
                  "x": {"field": "x", "type": "quantitative", "scale": {"domain": [-1.44, 13], "nice": false, "zero": false}, "axis": {"values": [0,2,4,6,8,10,12], "ticks": false, "tickSize": 0, "labelPadding": 20, "title": null, "labelFlush": false}},
                  "y": {"field": "y", "type": "quantitative", "scale": {"domain": [0, 1], "nice": false}, "axis": {"orient": "right", "values": [0.2,0.4,0.6,0.8], "tickSize": -4, "tickWidth": 2, "labels": false, "title": null}}
                }}
             ],
             "resolve": {"axis": {"y": "independent"}}}
          ]
        }
      ]
    },
    {
      "spacing": 26,
      "hconcat": [
        {"width": 410, "height": 231,
         "layer": [
           {"data": {"values": [{}]}, "mark": {"type": "rule", "color": "black", "strokeWidth": 3, "strokeCap": "square"}, "encoding": {"x": {"datum": -0.45, "type": "quantitative", "scale": {"domain": [-0.45, 13.99], "nice": false, "zero": false}, "axis": {"values": [0,2,4,6,8,10,12], "ticks": false, "tickSize": 0, "labelPadding": 20, "title": null, "labelFlush": false}}}},
           {"data": {"values": [{}]}, "mark": {"type": "rule", "color": "black", "strokeWidth": 3, "strokeCap": "square"}, "encoding": {"x": {"datum": 13, "type": "quantitative", "axis": {"values": [0,2,4,6,8,10,12], "ticks": false, "tickSize": 0, "labelPadding": 20, "title": null, "labelFlush": false}}}},
           {"data": {"values": [{}]}, "mark": {"type": "rule", "color": "black", "strokeWidth": 3, "strokeCap": "square"}, "encoding": {"x": {"datum": -0.45, "type": "quantitative", "axis": {"values": [0,2,4,6,8,10,12], "ticks": false, "tickSize": 0, "labelPadding": 20, "title": null, "labelFlush": false}}, "x2": {"datum": 13}, "y": {"datum": 0, "type": "quantitative", "scale": {"domain": [0, 1], "nice": false}, "axis": null}}},
           {"data": {"values": [{}]}, "mark": {"type": "rule", "color": "black", "strokeWidth": 3, "strokeCap": "square"}, "encoding": {"x": {"datum": -0.45, "type": "quantitative", "axis": {"values": [0,2,4,6,8,10,12], "ticks": false, "tickSize": 0, "labelPadding": 20, "title": null, "labelFlush": false}}, "x2": {"datum": 13}, "y": {"datum": 1, "type": "quantitative", "axis": null}}},
           {"data": {"name": "p5"}, "mark": {"type": "line", "color": "black", "strokeWidth": 4, "interpolate": "monotone"},
            "encoding": {
              "x": {"field": "x", "type": "quantitative", "scale": {"domain": [-0.45, 13.99], "nice": false, "zero": false}, "axis": {"values": [0,2,4,6,8,10,12], "ticks": false, "tickSize": 0, "labelPadding": 20, "title": null, "labelFlush": false}},
              "y": {"field": "y", "type": "quantitative", "scale": {"domain": [0, 1], "nice": false}, "axis": {"values": [0,0.02,0.04,0.06,0.08,0.1,0.12,0.14,0.16,0.18,0.2,0.22,0.24,0.26,0.28,0.3,0.32,0.34,0.36,0.38,0.4,0.42,0.44,0.46,0.48,0.5,0.52,0.54,0.56,0.58,0.6,0.62,0.64,0.66,0.68,0.7,0.72,0.74,0.76,0.78,0.8,0.82,0.84,0.86,0.88,0.9,0.92,0.94,0.96,0.98,1], "tickSize": 4, "tickWidth": 1.5, "labelPadding": 1, "labelOverlap": false, "labelExpr": "round(datum.value*50) % 10 == 0 ? toString(round(datum.value*5)/5) : ''", "title": null}}
            }},
           {"data": {"name": "p5"}, "mark": {"type": "line", "color": "black", "strokeWidth": 4, "interpolate": "monotone"},
            "encoding": {
              "x": {"field": "x", "type": "quantitative", "scale": {"domain": [-0.45, 13.99], "nice": false, "zero": false}, "axis": {"values": [0,2,4,6,8,10,12], "ticks": false, "tickSize": 0, "labelPadding": 20, "title": null, "labelFlush": false}},
              "y": {"field": "y", "type": "quantitative", "scale": {"domain": [0, 1], "nice": false}, "axis": {"orient": "right", "offset": -28, "values": [0.2,0.4,0.6,0.8], "tickSize": -4, "tickWidth": 2, "labels": false, "title": null}}
            }}
         ],
         "resolve": {"axis": {"y": "independent"}}},
        {"width": 410, "height": 231,
         "layer": [
           {"data": {"values": [{}]}, "mark": {"type": "rule", "color": "black", "strokeWidth": 3, "strokeCap": "square"}, "encoding": {"x": {"datum": -0.45, "type": "quantitative", "scale": {"domain": [-0.45, 13.99], "nice": false, "zero": false}, "axis": {"values": [0,2,4,6,8,10,12], "ticks": false, "tickSize": 0, "labelPadding": 20, "title": null, "labelFlush": false}}}},
           {"data": {"values": [{}]}, "mark": {"type": "rule", "color": "black", "strokeWidth": 3, "strokeCap": "square"}, "encoding": {"x": {"datum": 13, "type": "quantitative", "axis": {"values": [0,2,4,6,8,10,12], "ticks": false, "tickSize": 0, "labelPadding": 20, "title": null, "labelFlush": false}}}},
           {"data": {"values": [{}]}, "mark": {"type": "rule", "color": "black", "strokeWidth": 3, "strokeCap": "square"}, "encoding": {"x": {"datum": -0.45, "type": "quantitative", "axis": {"values": [0,2,4,6,8,10,12], "ticks": false, "tickSize": 0, "labelPadding": 20, "title": null, "labelFlush": false}}, "x2": {"datum": 13}, "y": {"datum": 0, "type": "quantitative", "scale": {"domain": [0, 1], "nice": false}, "axis": null}}},
           {"data": {"values": [{}]}, "mark": {"type": "rule", "color": "black", "strokeWidth": 3, "strokeCap": "square"}, "encoding": {"x": {"datum": -0.45, "type": "quantitative", "axis": {"values": [0,2,4,6,8,10,12], "ticks": false, "tickSize": 0, "labelPadding": 20, "title": null, "labelFlush": false}}, "x2": {"datum": 13}, "y": {"datum": 1, "type": "quantitative", "axis": null}}},
           {"data": {"name": "p6"}, "mark": {"type": "line", "color": "black", "strokeWidth": 4, "interpolate": "monotone"},
            "encoding": {
              "x": {"field": "x", "type": "quantitative", "scale": {"domain": [-0.45, 13.99], "nice": false, "zero": false}, "axis": {"values": [0,2,4,6,8,10,12], "ticks": false, "tickSize": 0, "labelPadding": 20, "title": null, "labelFlush": false}},
              "y": {"field": "y", "type": "quantitative", "scale": {"domain": [0, 1], "nice": false}, "axis": {"values": [0,0.02,0.04,0.06,0.08,0.1,0.12,0.14,0.16,0.18,0.2,0.22,0.24,0.26,0.28,0.3,0.32,0.34,0.36,0.38,0.4,0.42,0.44,0.46,0.48,0.5,0.52,0.54,0.56,0.58,0.6,0.62,0.64,0.66,0.68,0.7,0.72,0.74,0.76,0.78,0.8,0.82,0.84,0.86,0.88,0.9,0.92,0.94,0.96,0.98,1], "tickSize": 4, "tickWidth": 1.5, "labelPadding": 1, "labelOverlap": false, "labelExpr": "round(datum.value*50) % 10 == 0 ? toString(round(datum.value*5)/5) : ''", "title": null}}
            }},
           {"data": {"name": "p6"}, "mark": {"type": "line", "color": "black", "strokeWidth": 4, "interpolate": "monotone"},
            "encoding": {
              "x": {"field": "x", "type": "quantitative", "scale": {"domain": [-0.45, 13.99], "nice": false, "zero": false}, "axis": {"values": [0,2,4,6,8,10,12], "ticks": false, "tickSize": 0, "labelPadding": 20, "title": null, "labelFlush": false}},
              "y": {"field": "y", "type": "quantitative", "scale": {"domain": [0, 1], "nice": false}, "axis": {"orient": "right", "offset": -28, "values": [0.2,0.4,0.6,0.8], "tickSize": -4, "tickWidth": 2, "labels": false, "title": null}}
            }}
         ],
         "resolve": {"axis": {"y": "independent"}}}
      ]
    }
  ],
  "columns": 1,
  "align": "none",
  "spacing": 38
}
